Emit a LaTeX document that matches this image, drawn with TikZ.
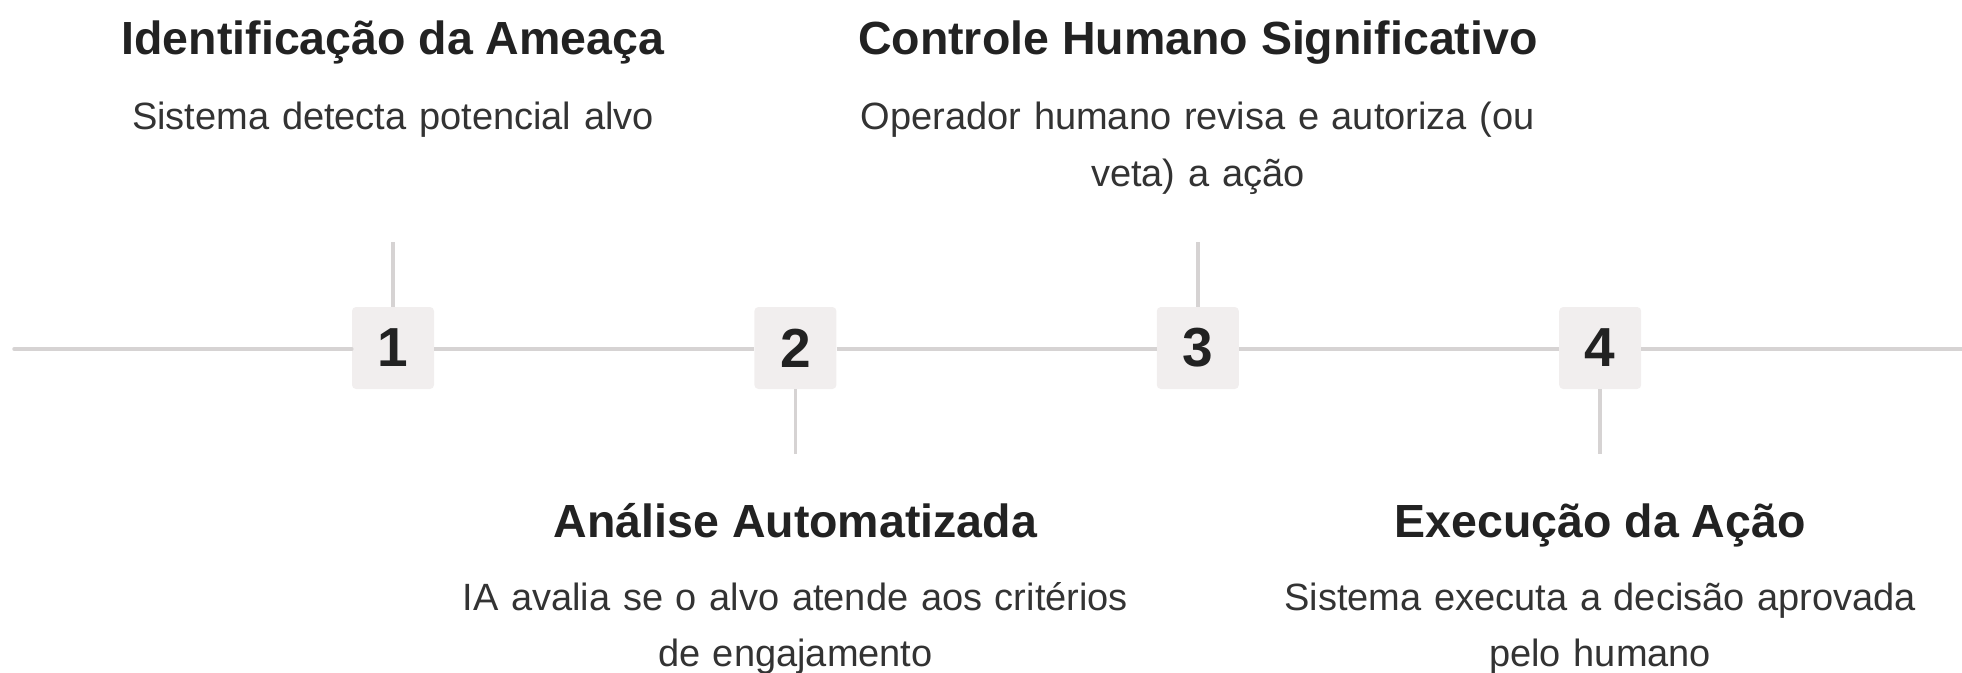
\documentclass[tikz,border=0pt]{standalone}
\usepackage{fontspec}
\setmainfont{Liberation Sans}
\usetikzlibrary{positioning}

\definecolor{rulegray}{HTML}{D6D3D3}
\definecolor{boxgray}{HTML}{F1EEEE}
\definecolor{inkdark}{HTML}{222222}
\definecolor{inksoft}{HTML}{333333}

\tikzset{
    stepbox/.style={fill=boxgray, rounded corners=4pt, minimum size=82pt, inner sep=0pt,
        text=inkdark, font=\fontsize{55}{55}\selectfont\bfseries},
    tickline/.style={draw=rulegray, line width=3.5pt},
    headtext/.style={font=\fontsize{46.5}{50}\selectfont\bfseries, text=inkdark, inner sep=0pt},
    bodytext/.style={font=\fontsize{38}{57}\selectfont, text=inksoft, inner sep=0pt,
        text width=760pt, align=center},
    lowtext/.style={bodytext, font=\fontsize{38}{56}\selectfont},
}

\begin{document}
\begin{tikzpicture}[x=1pt,y=1pt]
    \useasboundingbox (0,0) rectangle (1962,-672);

    % the four steps on the time line
    \node[stepbox] (s1) at (393,-348) {1};
    \node[stepbox,right=320pt of s1] (s2) {2};
    \node[stepbox,right=320pt of s2] (s3) {3};
    \node[stepbox,right=320pt of s3] (s4) {4};
    \coordinate (lineL) at (14,-349);
    \coordinate (lineR) at (1962,-349);

    \draw[tickline,line cap=round] (lineL) -- (s1.west |- lineL);
    \draw[tickline] (s1.east |- lineL) -- (s2.west |- lineL);
    \draw[tickline] (s2.east |- lineL) -- (s3.west |- lineL);
    \draw[tickline] (s3.east |- lineL) -- (s4.west |- lineL);
    \draw[tickline] (s4.east |- lineL) -- (lineR);

    % ticks, up for odd steps, down for even ones
    \coordinate[above=65pt of s1] (t1);
    \coordinate[below=65pt of s2] (t2);
    \coordinate[above=65pt of s3] (t3);
    \coordinate[below=65pt of s4] (t4);
    \draw[tickline] (s1) -- (t1);
    \draw[tickline] (s2) -- (t2);
    \draw[tickline] (s3) -- (t3);
    \draw[tickline] (s4) -- (t4);

    % labels
    \node[headtext,above=187pt of t1,anchor=base] (h1) {Identificação da Ameaça};
    \node[bodytext,below=75pt of h1.base,anchor=base] (d1) {Sistema detecta potencial alvo};
    \node[headtext,below=83pt of t2,anchor=base] (h2) {Análise Automatizada};
    \node[lowtext,below=73pt of h2.base,anchor=base] (d2) {IA avalia se o alvo atende aos critérios\\de engajamento};
    \node[headtext,above=187pt of t3,anchor=base] (h3) {Controle Humano Significativo};
    \node[bodytext,below=75pt of h3.base,anchor=base] (d3) {Operador humano revisa e autoriza (ou\\veta) a ação};
    \node[headtext,below=83pt of t4,anchor=base] (h4) {Execução da Ação};
    \node[lowtext,below=73pt of h4.base,anchor=base] (d4) {Sistema executa a decisão aprovada\\pelo humano};
\end{tikzpicture}
\end{document}
